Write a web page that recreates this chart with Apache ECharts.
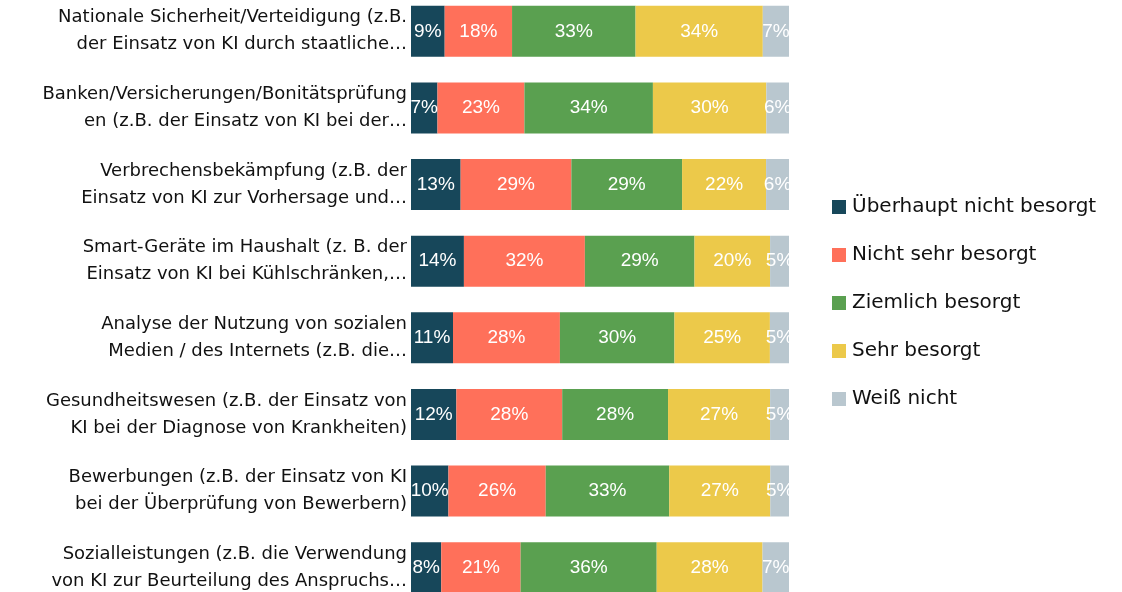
<!DOCTYPE html>
<html>
<head>
<meta charset="utf-8">
<script src="https://cdn.jsdelivr.net/npm/echarts@6/dist/echarts.min.js"></script>
<style>
  html, body { margin: 0; padding: 0; background: #fff; }
  #chart { width: 1122px; height: 592px; }
</style>
</head>
<body>
<div id="chart"></div>
<script>
// categories top to bottom
var categories = [
    'Nationale Sicherheit/Verteidigung (z.B.\nder Einsatz von KI durch staatliche…',
    'Banken/Versicherungen/Bonitätsprüfung\nen (z.B. der Einsatz von KI bei der…',
    'Verbrechensbekämpfung (z.B. der\nEinsatz von KI zur Vorhersage und…',
    'Smart-Geräte im Haushalt (z. B. der\nEinsatz von KI bei Kühlschränken,…',
    'Analyse der Nutzung von sozialen\nMedien / des Internets (z.B. die…',
    'Gesundheitswesen (z.B. der Einsatz von\nKI bei der Diagnose von Krankheiten)',
    'Bewerbungen (z.B. der Einsatz von KI\nbei der Überprüfung von Bewerbern)',
    'Sozialleistungen (z.B. die Verwendung\nvon KI zur Beurteilung des Anspruchs…'
];
var seriesNames = ['Überhaupt nicht besorgt', 'Nicht sehr besorgt', 'Ziemlich besorgt', 'Sehr besorgt', 'Weiß nicht'];
var colors = ['#17475a', '#ff705a', '#5aa050', '#ecc94a', '#b9c7cf'];

var notConcerned = [9, 7, 13, 14, 11, 12, 10, 8];
var notVery      = [18, 23, 29, 32, 28, 28, 26, 21];
var fairly       = [33, 34, 29, 29, 30, 28, 33, 36];
var very         = [34, 30, 22, 20, 25, 27, 27, 28];
var dontKnow     = [7, 6, 6, 5, 5, 5, 5, 7];

var values = [notConcerned, notVery, fairly, very, dontKnow];

// each row scaled to fill the full width (rounded values don't always add to 100)
var totals = categories.map(function (c, i) {
    return values.reduce(function (s, arr) { return s + arr[i]; }, 0);
});

var chart = echarts.init(document.getElementById('chart'));
var textFont = "'DejaVu Sans', sans-serif";
var numFont = "'Liberation Sans', sans-serif";

var series = values.map(function (arr, k) {
    return {
        name: seriesNames[k],
        type: 'bar',
        stack: 'total',
        barWidth: 51,
        itemStyle: { color: colors[k] },
        label: {
            show: true,
            color: '#fff',
            fontSize: 19,
            fontFamily: numFont,
            formatter: function (p) { return arr[p.dataIndex] + '%'; }
        },
        data: arr.map(function (v, i) { return v / totals[i] * 100; })
    };
});

chart.setOption({
    animation: false,
    grid: { left: 411, right: 333, top: -7, bottom: -14, outerBoundsMode: 'none' },
    legend: {
        orient: 'vertical',
        left: 827,
        top: 192,
        itemWidth: 14,
        itemHeight: 14,
        itemGap: 28,
        icon: 'rect',
        textStyle: { fontSize: 20, color: '#111', fontFamily: textFont, padding: [0, 0, 0, 1] },
        data: seriesNames
    },
    xAxis: {
        type: 'value',
        min: 0,
        max: 100,
        show: false
    },
    yAxis: {
        type: 'category',
        inverse: true,
        data: categories,
        axisLine: { show: false },
        axisTick: { show: false },
        axisLabel: {
            margin: 4,
            fontSize: 18,
            lineHeight: 27,
            padding: [6, 0, 0, 0],
            color: '#111',
            fontFamily: textFont,
            align: 'right'
        }
    },
    series: series
});
</script>
</body>
</html>
